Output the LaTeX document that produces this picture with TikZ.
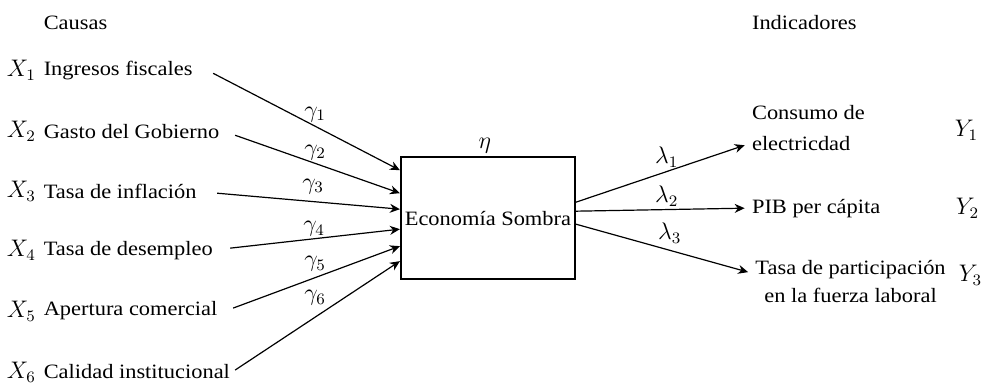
\documentclass[tikz,border=0pt]{standalone}
\usepackage{amssymb, amsmath}
\usepackage{fontspec}
\setmainfont{Liberation Serif}[FakeStretch=1.1]
\usepackage{tikz}
\usetikzlibrary{arrows.meta}
\newcommand*{\fs}{\fontsize{10.2}{15.5}\selectfont}
\newcommand*{\ms}{\fontsize{11.5}{14}\selectfont}

\begin{document}
\begin{tikzpicture}[
   x=0.5pt, y=-0.5pt,
   txt/.style={inner sep=0, anchor=west, font=\fs},
   var/.style={inner sep=0, font=\ms},
   coef/.style={inner sep=0, font=\ms},
   ind/.style={inner sep=3.5, anchor=west, align=left, font=\fs},
   latent/.style={rectangle, draw=black, line width=1.1, text=black,
                  inner sep=0, minimum width=87pt, minimum height=61pt, font=\fs},
   causal/.style={->, >={Stealth[length=5pt, width=4.5pt]}, line width=0.6}
  ]

  % Canvas
  \draw[white] (0, 0) rectangle (982, 382);

  \node (causas) at (43, 22) [txt] {Causas};
  \node (indic) at (752, 22) [txt] {Indicadores};

  % Causes
  \node (X1) at (21, 70) [var] {$X_{1}$};
  \node (X2) at (21, 131) [var] {$X_{2}$};
  \node (X3) at (21, 191) [var] {$X_{3}$};
  \node (X4) at (21, 250) [var] {$X_{4}$};
  \node (X5) at (21, 311) [var] {$X_{5}$};
  \node (X6) at (21, 372) [var] {$X_{6}$};

  \node (C1) at (43, 70) [txt] {Ingresos fiscales};
  \node (C2) at (43, 131) [txt] {Gasto del Gobierno};
  \node (C3) at (43, 191) [txt] {Tasa de inflación};
  \node (C4) at (43, 250) [txt] {Tasa de desempleo};
  \node (C5) at (43, 311) [txt] {Apertura comercial};
  \node (C6) at (43, 372) [txt] {Calidad institucional};

  \coordinate (S1) at (213, 73);
  \coordinate (S2) at (235, 135);
  \coordinate (S3) at (217, 193);
  \coordinate (S4) at (230, 248);
  \coordinate (S5) at (233, 308);
  \coordinate (S6) at (235, 370);

  % Latent variable
  \node (eco) at (488, 218) [latent] {Economía Sombra};
  \node (eta) at (485, 145) [coef] {$\eta$};

  % Indicators
  \node (Y1t) at (745, 128) [ind] {Consumo de\\electricdad};
  \node (Y2t) at (745, 208) [ind] {PIB per cápita};
  \node (Y3t) at (851, 281) [ind, anchor=center, align=center,
                             font=\fontsize{10.2}{14}\selectfont]
        {Tasa de participación\\en la fuerza laboral};

  \node (Y1) at (967, 130) [var] {$Y_{1}$};
  \node (Y2) at (968, 208) [var] {$Y_{2}$};
  \node (Y3) at (971, 275) [var] {$Y_{3}$};

  \foreach \B/\s in {S1/24, S2/12.5, S3/4.5, S4/-5.5, S5/-14, S6/-21.5} {
    \draw[causal] (\B) -- ([yshift=\s pt]eco.west);
  }

  \draw[causal] ([yshift=8pt]eco.east) -- ([yshift=-8.5pt]Y1t.west);
  \draw[causal] ([yshift=3.5pt]eco.east) -- (Y2t.west);
  \draw[causal] ([yshift=-3pt]eco.east) -- ([yshift=4.5pt]Y3t.west);

  % Coefficients
  \node at (315, 114) [coef] {$\gamma_{1}$};
  \node at (315, 152) [coef] {$\gamma_{2}$};
  \node at (313, 186) [coef] {$\gamma_{3}$};
  \node at (314, 229) [coef] {$\gamma_{4}$};
  \node at (315, 264) [coef] {$\gamma_{5}$};
  \node at (315, 298) [coef] {$\gamma_{6}$};

  \node at (667, 157) [coef] {$\lambda_{1}$};
  \node at (667, 196) [coef] {$\lambda_{2}$};
  \node at (670, 233) [coef] {$\lambda_{3}$};

\end{tikzpicture}
\end{document}
